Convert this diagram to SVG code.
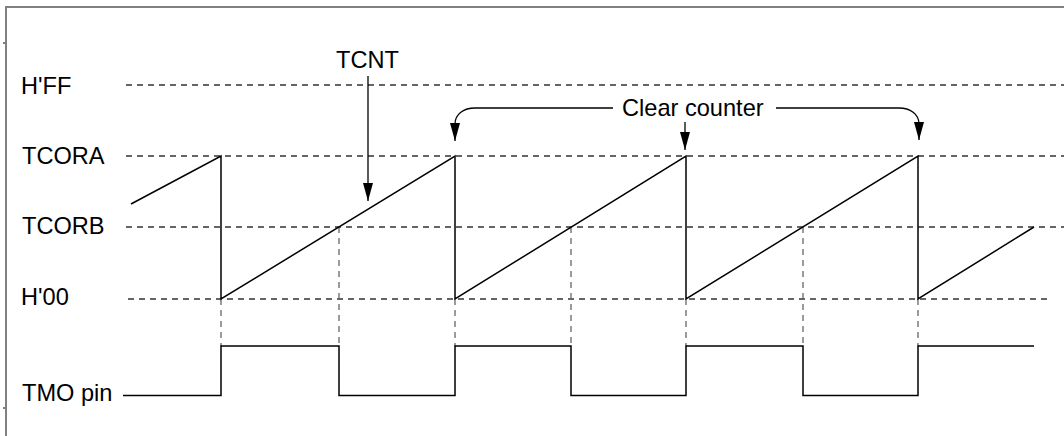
<svg xmlns="http://www.w3.org/2000/svg" width="1064" height="436" viewBox="0 0 1064 436">
  <style>
    .lbl { font-family: "Liberation Sans", Arial, sans-serif; font-size: 23.6px; fill: #000; }
    .hd { stroke: #333; stroke-width: 1.3; stroke-dasharray: 6 5; fill: none; }
    .vd { stroke: #666; stroke-width: 1.3; stroke-dasharray: 6 5; fill: none; }
    .wave { stroke: #000; stroke-width: 1.5; fill: none; stroke-linejoin: miter; }
    .arr { stroke: #000; stroke-width: 1.3; fill: none; marker-end: url(#ah); }
    .frame { stroke: #808080; stroke-width: 2; fill: none; }
  </style>
  <defs>
    <marker id="ah" markerUnits="userSpaceOnUse" markerWidth="18" markerHeight="10" refX="18" refY="5" orient="auto">
      <path d="M0,0 L18,5 L0,10 z" fill="#000"/>
    </marker>
  </defs>
  <rect width="1064" height="436" fill="#fff"/>

  <g id="frame">
    <path class="frame" d="M6,436 V7 H1064"/>
    <path class="frame" d="M3,43 H6 M3,408 H6" stroke-width="1"/>
  </g>

  <g id="levels">
    <line class="hd" x1="126" y1="85" x2="1064" y2="85"/>
    <line class="hd" x1="126" y1="156" x2="1064" y2="156"/>
    <line class="hd" x1="126" y1="227" x2="1064" y2="227"/>
    <line class="hd" x1="128" y1="299" x2="1052" y2="299"/>
  </g>

  <g id="guides">
    <line class="vd" x1="221" y1="299" x2="221" y2="346"/>
    <line class="vd" x1="339" y1="227" x2="339" y2="346"/>
    <line class="vd" x1="455" y1="299" x2="455" y2="346"/>
    <line class="vd" x1="571" y1="227" x2="571" y2="346"/>
    <line class="vd" x1="686" y1="299" x2="686" y2="346"/>
    <line class="vd" x1="803" y1="227" x2="803" y2="346"/>
    <line class="vd" x1="918" y1="299" x2="918" y2="346"/>
  </g>

  <g id="tcnt-wave">
    <path class="wave" d="M131,204 L221,156 V299 L455,156 V299 L686,156 V299 L918,156 V299 L1034,227"/>
  </g>

  <g id="tmo-wave">
    <path class="wave" d="M123,395.5 H221 V346 H339 V395.5 H455 V346 H571 V395.5 H686 V346 H803 V395.5 H918 V346 H1034"/>
  </g>

  <g id="label-hff"><text class="lbl" x="21" y="94">H'FF</text></g>
  <g id="label-tcora"><text class="lbl" x="22" y="164">TCORA</text></g>
  <g id="label-tcorb"><text class="lbl" x="22" y="234">TCORB</text></g>
  <g id="label-h00"><text class="lbl" x="21" y="305">H'00</text></g>
  <g id="label-tmo"><text class="lbl" x="22" y="401">TMO pin</text></g>
  <g id="label-tcnt"><text class="lbl" x="336" y="68">TCNT</text></g>
  <g id="label-clear"><text class="lbl" x="622" y="116">Clear counter</text></g>

  <g id="connectors">
    <path class="arr" d="M368,76 V201"/>
    <path class="arr" d="M613,108 H475 C464,108 455,114 455,124 V141"/>
    <path class="arr" d="M685,122 V150"/>
    <path class="arr" d="M776,108 H899 C910,108 919,114 919,124 V140"/>
  </g>
</svg>
